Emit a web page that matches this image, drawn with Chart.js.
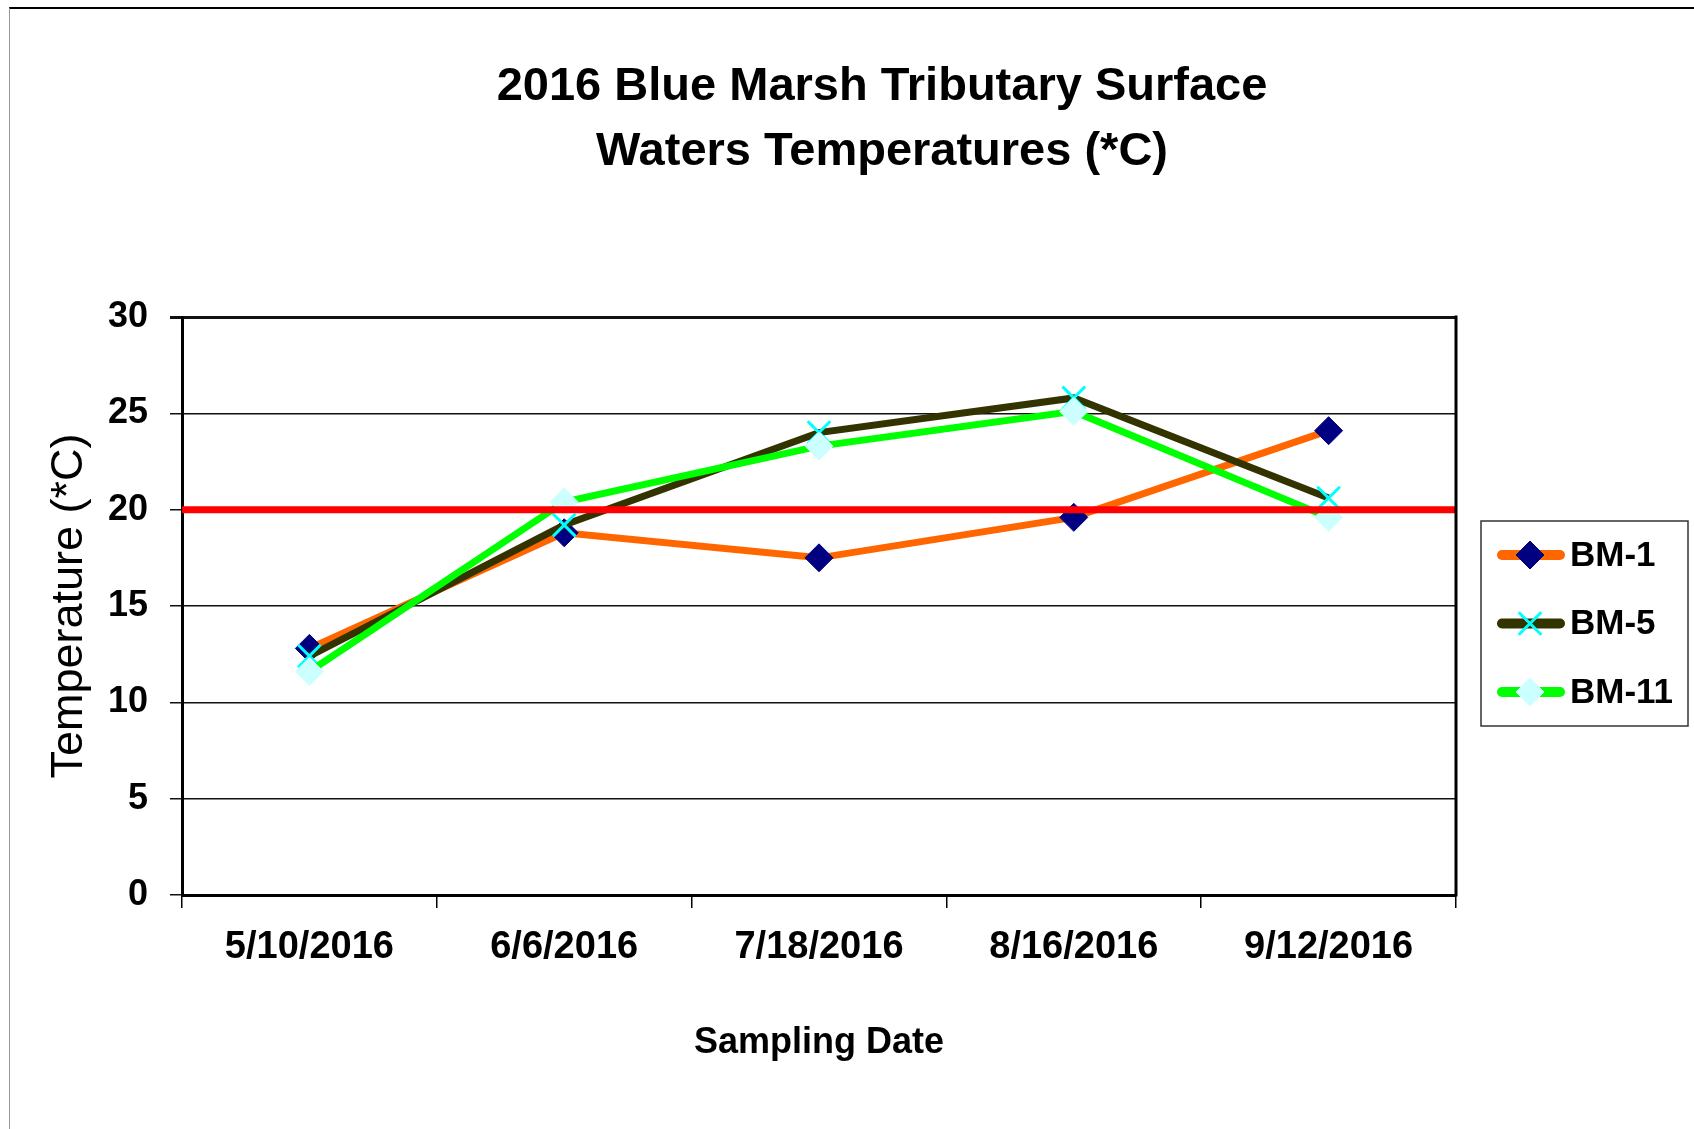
<!DOCTYPE html>
<html>
<head>
<meta charset="utf-8">
<title>2016 Blue Marsh Tributary Surface Waters Temperatures</title>
<script src="https://cdn.jsdelivr.net/npm/chart.js@4.4.1/dist/chart.umd.min.js"></script>
<style>
    html, body { margin: 0; padding: 0; background: #fff; }
    #wrap { position: relative; width: 1694px; height: 1129px; overflow: hidden; }
    #frame {
        position: absolute; left: 9px; top: 7px; right: -5px; bottom: -5px;
        border-top: 2px solid #000; border-left: 1px solid #999;
    }
    #chart { position: absolute; left: 0; top: 0; }
</style>
</head>
<body>
<div id="wrap">
    <div id="frame"></div>
    <canvas id="chart" width="1694" height="1129"></canvas>
</div>
<script>
// Datos
const titleLines = ['2016 Blue Marsh Tributary Surface', 'Waters Temperatures (*C)'];
const sampleDates = ['5/10/2016', '6/6/2016', '7/18/2016', '8/16/2016', '9/12/2016'];
const bm1 = [12.8, 18.8, 17.5, 19.6, 24.1];
const bm5 = [12.4, 19.2, 24.0, 25.8, 20.6];
const bm11 = [11.6, 20.4, 23.3, 25.1, 19.6];
const standardTemp = 20;
const yTicks = [0, 5, 10, 15, 20, 25, 30];

const FONT = "'Liberation Sans', Arial, Helvetica, sans-serif";

// Título dibujado a mano (centrado como en el original)
const titlePlugin = {
    id: 'titleText',
    afterDraw(chart) {
        const ctx = chart.ctx;
        ctx.save();
        ctx.fillStyle = '#000';
        ctx.font = 'bold 47px ' + FONT;
        ctx.textAlign = 'center';
        ctx.textBaseline = 'alphabetic';
        ctx.fillText(titleLines[0], 882, 100);
        ctx.fillText(titleLines[1], 882, 165);
        ctx.restore();
    }
};

// Línea de referencia a 20 °C y borde derecho del área
const frameAndLimit = {
    id: 'frameAndLimit',
    afterDatasetsDraw(chart) {
        const ctx = chart.ctx;
        const area = chart.chartArea;
        const y = chart.scales.y.getPixelForValue(standardTemp);
        ctx.save();
        ctx.strokeStyle = '#ff0000';
        ctx.lineWidth = 7;
        ctx.beginPath();
        ctx.moveTo(area.left, y);
        ctx.lineTo(area.right, y);
        ctx.stroke();

        ctx.strokeStyle = '#000';
        ctx.lineWidth = 3;
        ctx.beginPath();
        ctx.moveTo(area.right, area.top - 1.5);
        ctx.lineTo(area.right, area.bottom + 1.5);
        ctx.stroke();
        ctx.restore();
    }
};

// Leyenda con línea + marcador, como en Excel
const legendBox = {
    id: 'legendBox',
    afterDraw(chart) {
        const ctx = chart.ctx;
        const area = chart.chartArea;
        const left = area.right + 25;
        const top = 521;
        const w = 207, h = 205;
        ctx.save();
        ctx.fillStyle = '#fff';
        ctx.fillRect(left, top, w, h);
        ctx.strokeStyle = '#333';
        ctx.lineWidth = 1.5;
        ctx.strokeRect(left, top, w, h);

        chart.data.datasets.forEach((ds, i) => {
            const cy = top + 34 + i * 68.5;
            ctx.strokeStyle = ds.borderColor;
            ctx.lineWidth = 10;
            ctx.lineCap = 'round';
            ctx.beginPath();
            ctx.moveTo(left + 21, cy);
            ctx.lineTo(left + 79, cy);
            ctx.stroke();

            ctx.lineCap = 'butt';
            ctx.fillStyle = ds.pointBackgroundColor;
            ctx.strokeStyle = ds.pointBorderColor;
            ctx.lineWidth = ds.pointBorderWidth;
            Chart.helpers.drawPoint(ctx, {
                pointStyle: ds.pointStyle,
                radius: ds.pointRadius,
                borderWidth: ds.pointBorderWidth,
                rotation: 0
            }, left + 49, cy);

            ctx.fillStyle = '#000';
            ctx.font = 'bold 35px ' + FONT;
            ctx.textAlign = 'left';
            ctx.textBaseline = 'middle';
            ctx.fillText(ds.label, left + 89, cy + 1);
        });
        ctx.restore();
    }
};

function makeSeries(label, data, line, marker, style, radius, order) {
    return {
        label: label,
        data: data,
        borderColor: line,
        borderWidth: 7,
        backgroundColor: marker,
        pointStyle: style,
        pointRadius: radius,
        pointBackgroundColor: marker,
        pointBorderColor: marker,
        pointBorderWidth: style === 'crossRot' ? 3 : 1,
        pointHoverRadius: radius,
        tension: 0,
        order: order
    };
}

const config = {
    type: 'line',
    data: {
        labels: sampleDates,
        datasets: [
            makeSeries('BM-1', bm1, '#ff6600', '#000080', 'rectRot', 14, 3),
            makeSeries('BM-5', bm5, '#333300', '#00ffff', 'crossRot', 16, 2),
            makeSeries('BM-11', bm11, '#00ff00', '#ccffff', 'rectRot', 14, 1)
        ]
    },
    options: {
        responsive: false,
        animation: false,
        devicePixelRatio: 1,
        layout: {
            padding: { top: 317, right: 238, left: 0, bottom: 0 }
        },
        plugins: {
            legend: { display: false },
            title: { display: false },
            tooltip: { enabled: false }
        },
        scales: {
            x: {
                type: 'category',
                offset: true,
                afterFit: (scale) => { scale.height = 234; },
                grid: {
                    offset: true,
                    drawOnChartArea: false,
                    drawTicks: true,
                    tickLength: 13,
                    color: '#000',
                    lineWidth: 1.5
                },
                border: { display: true, color: '#000', width: 3 },
                ticks: {
                    color: '#000',
                    font: { family: FONT, size: 38, weight: 'bold' },
                    padding: 17,
                    maxRotation: 0,
                    autoSkip: false
                },
                title: {
                    display: true,
                    text: 'Sampling Date',
                    color: '#000',
                    font: { family: FONT, size: 36, weight: 'bold' },
                    padding: { top: 0, bottom: 64 }
                }
            },
            y: {
                min: 0,
                max: 30,
                afterFit: (scale) => { scale.width = 182; },
                afterBuildTicks: (scale) => {
                    scale.ticks = yTicks.map(v => ({ value: v }));
                },
                grid: {
                    color: '#111',
                    lineWidth: (ctx) => (ctx.tick && ctx.tick.value === 30 ? 3 : 1.5),
                    tickLength: 12,
                    drawTicks: true
                },
                border: { display: true, color: '#000', width: 3 },
                ticks: {
                    color: '#000',
                    font: { family: FONT, size: 36, weight: 'bold' },
                    padding: 22
                },
                title: {
                    display: true,
                    text: 'Temperature (*C)',
                    color: '#000',
                    font: { family: FONT, size: 45, weight: 'normal' },
                    padding: { top: 43, bottom: 0 }
                }
            }
        }
    },
    plugins: [frameAndLimit, titlePlugin, legendBox]
};

const chart = new Chart(document.getElementById('chart').getContext('2d'), config);
</script>
</body>
</html>
